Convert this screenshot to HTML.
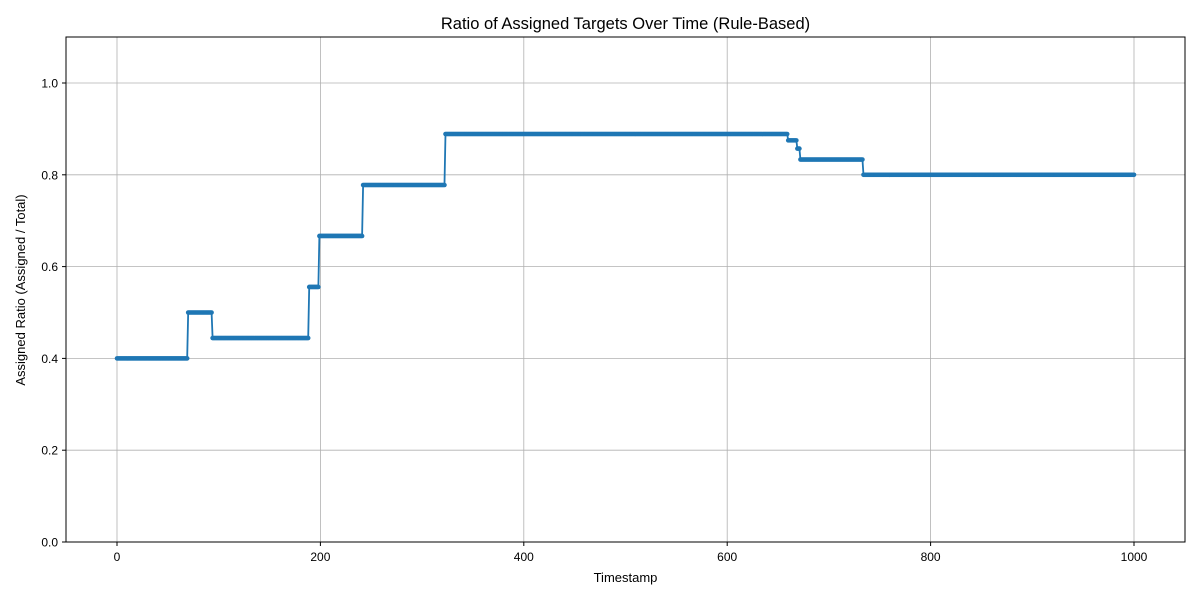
<!DOCTYPE html>
<html><head><meta charset="utf-8"><style>
body{margin:0;background:#fff;}
svg text{font-family:"Liberation Sans","DejaVu Sans",sans-serif;fill:#000;}
</style></head><body>
<svg id="chart" width="1200" height="600">
<rect width="1200" height="600" fill="#fff"/>
<text x="625.5" y="29" font-size="16.5" text-anchor="middle">Ratio of Assigned Targets Over Time (Rule-Based)</text>
<g id="grid"></g><g id="ticks"></g><g id="series"></g>
<rect x="66" y="37" width="1119" height="505" fill="none" stroke="#000" stroke-width="1"/>
<text x="625.5" y="582" font-size="13" text-anchor="middle">Timestamp</text>
<text transform="translate(25,290) rotate(-90)" font-size="13" text-anchor="middle">Assigned Ratio (Assigned / Total)</text>
</svg>
<script>
const segStarts=[0,70,94,189,199,242,323,660,669,672,734];
const segValues=[0.4,0.5,0.4444,0.5556,0.6667,0.7778,0.8889,0.875,0.8571,0.8333,0.8];
const lastTimestamp=1000;
const xTicks=[0,200,400,600,800,1000];
const yTicks=[0.0,0.2,0.4,0.6,0.8,1.0];
const NS="http://www.w3.org/2000/svg";
const X0=117,XK=1.017,Y0=542,YK=459;
const sx=v=>X0+v*XK, sy=v=>Y0-v*YK;
function mk(tag,attrs,parent){const e=document.createElementNS(NS,tag);for(const k in attrs)e.setAttribute(k,attrs[k]);parent.appendChild(e);return e;}
const grid=document.getElementById('grid'),ticks=document.getElementById('ticks'),series=document.getElementById('series');
xTicks.forEach(t=>{
  const g=mk('line',{x1:sx(t),x2:sx(t),y1:37,y2:542,stroke:'#b0b0b0','stroke-width':0.8},grid);
  
  
  const l=mk('line',{x1:sx(t),x2:sx(t),y1:542,y2:546,stroke:'#000'},ticks);
  
  
  const tx=mk('text',{x:sx(t),y:561,'font-size':12,'text-anchor':'middle'},ticks);
  tx.textContent=t;
  
  
});
yTicks.forEach(t=>{
  const g=mk('line',{x1:66,x2:1185,y1:sy(t),y2:sy(t),stroke:'#b0b0b0','stroke-width':0.8},grid);
  
  
  const l=mk('line',{x1:62,x2:66,y1:sy(t),y2:sy(t),stroke:'#000'},ticks);
  
  
  const tx=mk('text',{x:58,y:sy(t)+4.5,'font-size':12,'text-anchor':'end'},ticks);
  tx.textContent=t.toFixed(1);
  
  
});
const pts=[];
for(let t=0;t<=lastTimestamp;t++){
  let i=0;while(i+1<segStarts.length&&segStarts[i+1]<=t)i++;
  pts.push([t,segValues[i]]);
}
const path=mk('polyline',{points:pts.map(p=>sx(p[0])+','+sy(p[1])).join(' '),fill:'none',stroke:'#1f77b4','stroke-width':1.8,'stroke-linejoin':'round'},series);


pts.forEach(p=>{
  const c=mk('circle',{cx:sx(p[0]),cy:sy(p[1]),r:2.3,fill:'#1f77b4'},series);
  
  
});
</script>
</body></html>
